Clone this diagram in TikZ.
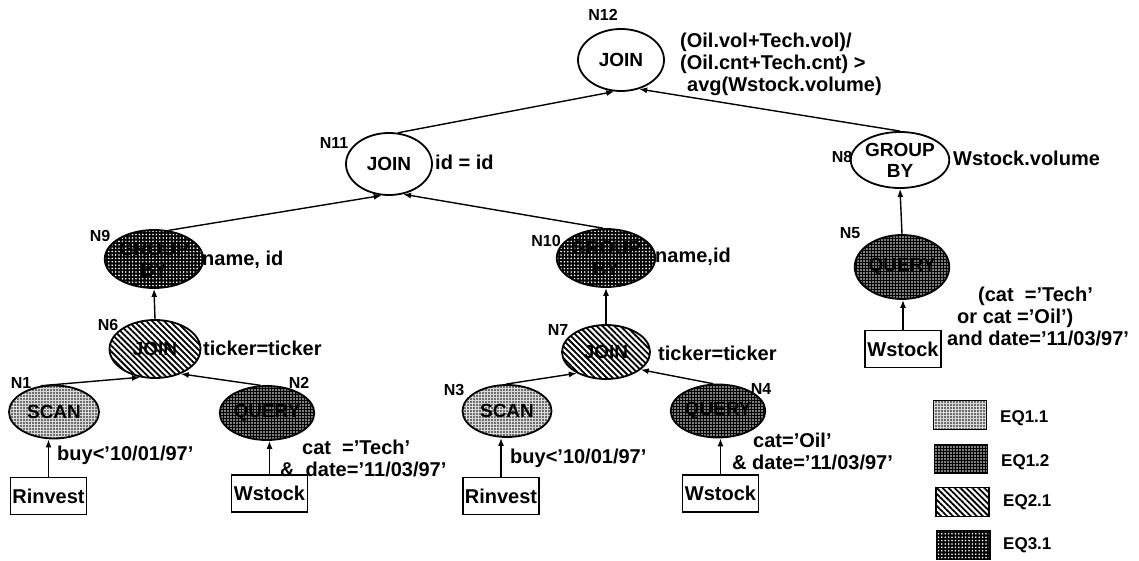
\documentclass[tikz,border=0pt]{standalone}
\usepackage{fontspec}
\setmainfont{Liberation Sans}
\usetikzlibrary{shapes.geometric, arrows.meta, patterns.meta}

\tikzset{
  op/.style={ellipse, draw, line width=1.8pt, inner sep=0pt, minimum width=88pt, minimum height=58pt,
    font=\bfseries\fontsize{19}{21}\selectfont, align=center},
  eqa/.style={preaction={fill=gray!30}, pattern={Dots[distance=3pt,radius=0.85pt]}, pattern color=black},
  eqb/.style={preaction={fill=black}, pattern={Dots[distance=3pt,radius=0.8pt]}, pattern color=white},
  eqc/.style={preaction={fill=white}, pattern={Lines[angle=-45,distance=4.2pt,line width=1.8pt]}, pattern color=black},
  eqd/.style={preaction={fill=black}, pattern={Dots[distance=3.4pt,radius=0.9pt]}, pattern color=white},
  rel/.style={rectangle, draw, line width=1.5pt, minimum width=76pt, minimum height=37pt, inner sep=1pt,
    font=\bfseries\fontsize{20}{22}\selectfont},
  lab/.style={font=\bfseries\fontsize{16}{18}\selectfont, inner sep=0pt},
  cond/.style={font=\bfseries\fontsize{20}{22}\selectfont, inner sep=0pt, align=left, anchor=west},
  arr/.style={-{Latex[length=8pt,width=6pt]}, line width=1.4pt},
  legbox/.style={rectangle, draw, line width=1.8pt, minimum width=53pt, minimum height=29pt, inner sep=0pt},
  legtext/.style={font=\bfseries\fontsize{17}{18}\selectfont, inner sep=0pt, anchor=west},
}

\begin{document}
\begin{tikzpicture}[x=1pt,y=-1pt]
\useasboundingbox (0,0) rectangle (1139,561);

% operator nodes
\node[op, minimum width=86pt, minimum height=62pt] (n12) at (621,60) {JOIN};
\node[op, minimum width=86pt, minimum height=62pt] (n11) at (389,164) {JOIN};
\node[op, minimum width=90pt, minimum height=56pt] (n8) at (900,160) {GROUP\\BY};
\node[op, eqd, minimum width=90pt] (n9) at (154,259) {GROUP\\BY};
\node[op, eqd, minimum width=90pt] (n10) at (606,258) {GROUP\\BY};
\node[op, eqb, minimum width=90pt, minimum height=64pt] (n5) at (902,267) {QUERY};
\node[op, eqc, minimum width=91pt] (n6) at (155,349) {JOIN};
\node[op, eqc, minimum width=88pt, minimum height=54pt] (n7) at (606,352) {JOIN};
\node[op, eqa, minimum width=90pt, minimum height=53pt] (n1) at (54,412) {SCAN};
\node[op, eqb, minimum width=90pt, minimum height=54pt] (n2) at (267,413) {QUERY};
\node[op, eqa, minimum width=89pt, minimum height=52pt] (n3) at (507,411) {SCAN};
\node[op, eqb, minimum width=89pt, minimum height=53pt] (n4) at (718,411) {QUERY};

% relations
\node[rel] (r1) at (48.5,496) {Rinvest};
\node[rel] (w2) at (269.5,493.5) {Wstock};
\node[rel] (r3) at (501,496) {Rinvest};
\node[rel] (w4) at (720.5,493.5) {Wstock};
\node[rel] (w5) at (903,349) {Wstock};

% node labels
\node[lab] (l12) at (603,15) {N12};
\node[lab] (l11) at (334,143) {N11};
\node[lab] (l8) at (842,157) {N8};
\node[lab] (l9) at (100,236) {N9};
\node[lab] (l10) at (546,241) {N10};
\node[lab] (l5) at (850,233) {N5};
\node[lab] (l6) at (108,325) {N6};
\node[lab] (l7) at (558,330) {N7};
\node[lab] (l1) at (21,383) {N1};
\node[lab] (l2) at (299,383) {N2};
\node[lab] (l3) at (454,390) {N3};
\node[lab] (l4) at (761,389) {N4};

% predicates
\node[cond] (p12) at (680,64) {(Oil.vol+Tech.vol)/\\(Oil.cnt+Tech.cnt) >\\\hspace*{7pt}avg(Wstock.volume)};
\node[cond] (p11) at (435,162) {id = id};
\node[cond] (p8) at (953,158) {Wstock.volume};
\node[cond] (p9) at (202,260) {name, id};
\node[cond] (p10) at (655,257) {name,id};
\node[cond] (p5) at (947,316) {\hspace*{31pt}(cat\ \ ='Tech'\\\hspace*{10pt}or cat ='Oil')\\and date='11/03/97'};
\node[cond] (p6) at (203,348) {ticker=ticker};
\node[cond] (p7) at (658,353) {ticker=ticker};
\node[cond] (p1) at (57,455) {buy<'10/01/97'};
\node[cond] (p3) at (510,458) {buy<'10/01/97'};
\node[cond] (p2) at (280,458) {\hspace*{22pt}cat\ \ ='Tech'\\\&\ \ date='11/03/97'};
\node[cond] (p4) at (732,451) {\hspace*{21pt}cat='Oil'\\\& date='11/03/97'};

% connectors
\draw[arr] (r1.north) -- (r1.north |- n1.south);
\draw[arr] (w2.north) -- (w2.north |- n2.south);
\draw[arr] (r3.north) -- (r3.north |- n3.south);
\draw[arr] (w4.north) -- (w4.north |- n4.south);
\draw[arr] (w5.north) -- (w5.north |- n5.south);
\draw[arr] (n1.117) -- (n6.242);
\draw[arr] (n2.103) -- (n6.316);
\draw[arr] (n3.92) -- (n7.216);
\draw[arr] (n4.100) -- (n7.333);
\draw[arr] (n6.north) -- (n9.south);
\draw[arr] (n7.north) -- (n10.south);
\draw[arr] (n5.north) -- (n8.south);
\draw[arr] (n9.63) -- (n11.257);
\draw[arr] (n10.96) -- (n11.295);
\draw[arr] (n11.74) -- (n12.258);
\draw[arr] (n8.north) -- (n12.302);

% legend
\node[legbox, eqa] (k1) at (960,415) {};
\node[legbox, eqb] (k2) at (961,459) {};
\node[legbox, eqc] (k3) at (962.5,502) {};
\node[legbox, eqd] (k4) at (963.5,545) {};
\node[legtext] (t1) at (1000,418) {EQ1.1};
\node[legtext] (t2) at (1001,462) {EQ1.2};
\node[legtext] (t3) at (1003,502) {EQ2.1};
\node[legtext] (t4) at (1003,545) {EQ3.1};
\end{tikzpicture}
\end{document}
